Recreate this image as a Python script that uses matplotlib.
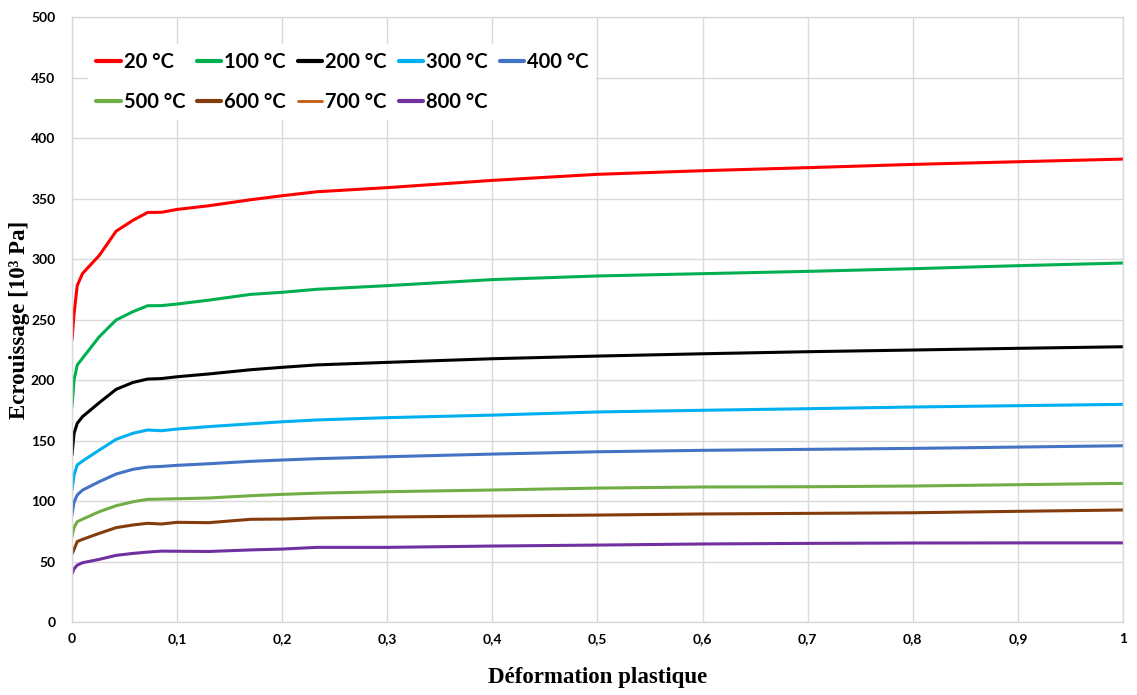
import matplotlib
matplotlib.use("Agg")
import matplotlib.pyplot as plt
from matplotlib.ticker import FixedLocator

# plastic strain (common x grid)
strain = [0, 0.002, 0.005, 0.01, 0.026, 0.042, 0.058, 0.072, 0.085, 0.1, 0.13, 0.17,
          0.2, 0.233, 0.3, 0.4, 0.5, 0.6, 0.7, 0.8, 0.9, 1.0]

t20 = [233, 255, 278, 288, 303, 323, 332, 338.5, 338.6, 341, 344, 349,
       352.3, 355.6, 359, 365, 370, 373, 375.5, 378.2, 380.4, 382.6]
t100 = [178, 200, 212.4, 218, 235.8, 249.6, 256.5, 261.4, 261.5, 262.8, 266, 270.8,
        272.5, 275, 278, 283, 286, 287.9, 289.8, 292, 294.5, 296.7]
t200 = [138, 156, 164.2, 169.7, 181.3, 192.3, 198, 200.8, 201.2, 202.7, 205, 208.5,
        210.5, 212.5, 214.6, 217.6, 219.8, 221.7, 223.4, 224.8, 226.2, 227.5]
t300 = [109, 121.5, 129.8, 133, 142.1, 151, 156, 158.7, 158.1, 159.5, 161.5, 163.8,
        165.5, 167, 168.9, 171, 173.6, 175, 176.3, 177.7, 178.8, 179.9]
t400 = [88.4, 99, 105, 109, 116, 122.3, 126.2, 128.1, 128.6, 129.5, 130.8, 132.8,
        133.9, 135, 136.6, 138.8, 140.7, 141.9, 142.7, 143.5, 144.6, 145.7]
t500 = [70.5, 78, 82.9, 85, 91.2, 96.1, 99.4, 101.4, 101.6, 101.9, 102.5, 104.4,
        105.5, 106.5, 107.7, 109.1, 110.7, 111.6, 111.8, 112.4, 113.5, 114.6]
t600 = [56.2, 60, 66.5, 68.3, 73.3, 78, 80.2, 81.6, 81.0, 82.4, 82.1, 84.9,
        85.1, 86, 86.8, 87.6, 88.4, 89.3, 89.8, 90.3, 91.5, 92.6]
t700 = []  # only shown in the legend
t800 = [39.7, 44, 47, 49, 51.8, 55.1, 56.7, 57.8, 58.6, 58.5, 58.3, 59.6,
        60.3, 61.7, 61.7, 62.8, 63.6, 64.5, 65, 65.3, 65.4, 65.4]

labels = ["20 °C", "100 °C", "200 °C", "300 °C", "400 °C",
          "500 °C", "600 °C", "700 °C", "800 °C"]
series = [t20, t100, t200, t300, t400, t500, t600, t700, t800]
colors = ["#FF0000", "#00B050", "#000000", "#00B0F0", "#4472C4",
          "#70AD47", "#843C0C", "#C55A11", "#7030A0"]
widths = [2.2, 2.2, 2.2, 2.2, 2.2, 2.2, 2.2, 1.4, 2.2]

xticks = [0, 0.1, 0.2, 0.3, 0.4, 0.5, 0.6, 0.7, 0.8, 0.9, 1]
xticklabels = ["0", "0,1", "0,2", "0,3", "0,4", "0,5", "0,6", "0,7", "0,8", "0,9", "1"]
yticks = [0, 50, 100, 150, 200, 250, 300, 350, 400, 450, 500]

sans = ["Lato", "DejaVu Sans"]

fig = plt.figure(figsize=(11.37, 6.95), dpi=100)
ax = fig.add_axes([0.0633, 0.105, 0.9244, 0.8705])

handles = []
for ys, lab, c, w in zip(series, labels, colors, widths):
    xs = strain[:len(ys)]
    h, = ax.plot(xs, ys, color=c, lw=w, label=lab, solid_capstyle="round")
    handles.append(h)

ax.set_xlim(0, 1)
ax.set_ylim(0, 500)
ax.xaxis.set_major_locator(FixedLocator(xticks))
ax.set_xticklabels(xticklabels)
ax.yaxis.set_major_locator(FixedLocator(yticks))
ax.grid(True, color="#D9D9D9", lw=1.0)
ax.set_axisbelow(True)
for s in ax.spines.values():
    s.set_color("#D9D9D9")
    s.set_linewidth(1.0)
ax.tick_params(length=0)
ax.tick_params(axis="x", pad=8)
ax.tick_params(axis="y", pad=12)
for t in ax.get_xticklabels() + ax.get_yticklabels():
    t.set_family(sans)
    t.set_fontweight("bold")
    t.set_fontsize(10)

ax.set_xlabel("Déformation plastique", family="Liberation Serif", fontweight="bold",
              fontsize=16.5)
ax.xaxis.set_label_coords(0.5, -0.074)
ax.set_ylabel("Ecrouissage [10³ Pa]", family="Liberation Serif", fontweight="bold",
              fontsize=16.5)
ax.yaxis.set_label_coords(-0.040, 0.5)

# legend filled row by row: 2 rows x 5 columns
order = [0, 5, 1, 6, 2, 7, 3, 8, 4]
leg = ax.legend([handles[i] for i in order], [labels[i] for i in order],
                loc="upper left", bbox_to_anchor=(0.006, 0.972), ncol=5,
                prop={"family": sans, "weight": "bold", "size": 14.5},
                handlelength=1.2, handletextpad=0.15, columnspacing=0.6,
                labelspacing=1.0, borderpad=0.4, frameon=True, fancybox=False)
leg.get_frame().set_facecolor("white")
leg.get_frame().set_edgecolor("none")
leg.get_frame().set_alpha(1)
for line, i in zip(leg.get_lines(), order):
    line.set_linewidth(2.0 if i == 7 else 3.0)

fig.savefig("out.png", dpi=100)
